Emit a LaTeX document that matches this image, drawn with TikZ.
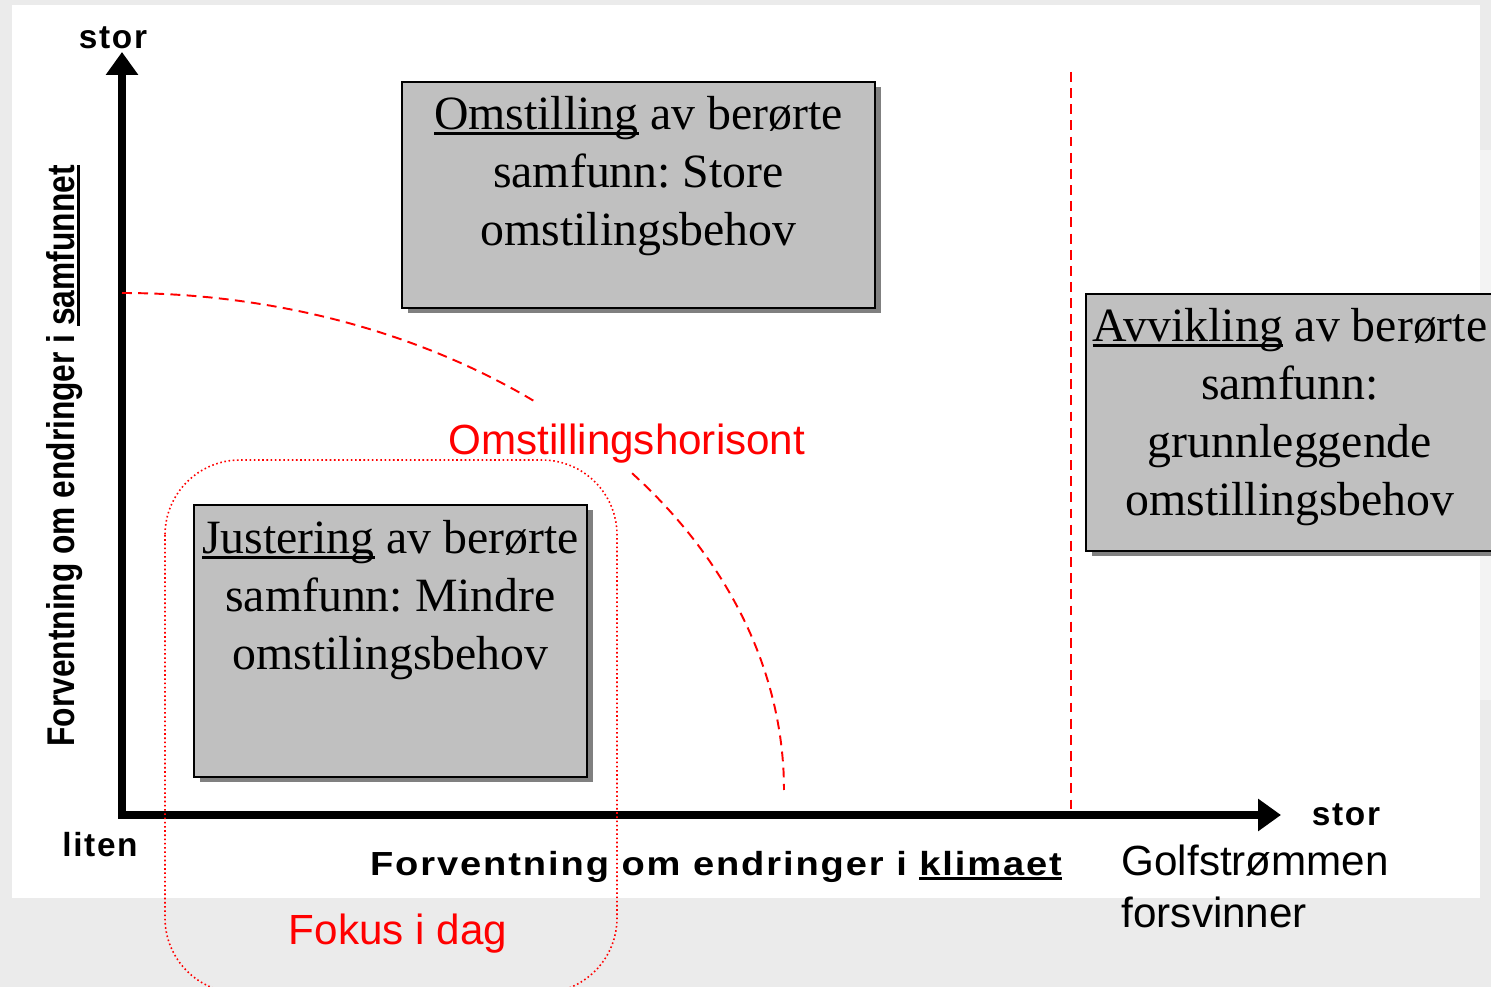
\documentclass[tikz,border=0pt]{standalone}
\usepackage{fontspec}
\setmainfont{Liberation Serif}
\newfontfamily\arial{Liberation Sans}
\newfontfamily\axfont[LetterSpace=5]{Liberation Sans}
\usetikzlibrary{arrows.meta,shadows}
\definecolor{bggray}{HTML}{EBEBEB}
\definecolor{boxgray}{HTML}{C0C0C0}
\definecolor{shadowgray}{HTML}{808080}
\definecolor{myred}{HTML}{FF0000}
\frenchspacing
\newcommand{\myul}[3]{\setbox0\hbox{#1}\rlap{\rule[-#2]{\wd0}{#3}}\box0{}}
\tikzset{
  box/.style={draw=black, line width=0.6pt, fill=boxgray, inner sep=0pt,
    drop shadow={shadow xshift=0.55mm, shadow yshift=-0.55mm, fill=shadowgray, opacity=1}},
  boxtext/.style={align=center, inner sep=0pt, font=\fontsize{13.6pt}{16.5pt}\selectfont},
  redtext/.style={text=myred, inner sep=0pt, font=\arial\fontsize{12pt}{14.8pt}\selectfont},
  axlabel/.style={inner sep=0pt, font=\axfont\bfseries\fontsize{9.5pt}{11pt}\selectfont},
  axisline/.style={line width=2.3pt, line join=miter,
    {Triangle[length=6.5pt,width=8.8pt]}-{Triangle[length=6.5pt,width=8.8pt]}},
  reddash/.style={draw=myred, line width=0.55pt, dash pattern=on 2.8pt off 1.8pt},
  reddot/.style={draw=myred, line width=0.45pt, dash pattern=on 0.45pt off 0.75pt}
}
\begin{document}
\begin{tikzpicture}[x=0.1mm, y=-0.1mm]
\useasboundingbox (0,0) rectangle (1491,987);
\clip (0,0) rectangle (1491,987);
% background
\fill[bggray] (0,0) rectangle (1491,987);
\fill[white, opacity=0.4] (1470,150) rectangle (1491,700);
\fill[white] (12,5) rectangle (1480,898);

% boxes
\node[box, minimum width=47.3mm, minimum height=22.6mm] (omst) at (638.5,195) {};
\node[boxtext, anchor=north] (omsttxt) at (638.5,96) {\myul{Omstilling}{1.5pt}{0.85pt} av berørte\\samfunn: Store\\omstilingsbehov};

\node[box, minimum width=39.3mm, minimum height=27.2mm] (just) at (390.5,641) {};
\node[boxtext, anchor=north] (justtxt) at (390.5,520) {\myul{Justering}{1.5pt}{0.85pt} av berørte\\samfunn: Mindre\\omstilingsbehov};

\node[box, minimum width=40.8mm, minimum height=25.7mm] (avv) at (1290,422.5) {};
\node[boxtext, anchor=north] (avvtxt) at (1290,308) {\myul{Avvikling}{1.5pt}{0.85pt} av berørte\\samfunn:\\grunnleggende\\omstillingsbehov};

% axes
\coordinate (ytip) at (122,52);
\coordinate (origin) at (122,815);
\coordinate (xtip) at (1281,815);
\draw[axisline] (ytip) -- (origin) -- (xtip);

% red dashed horizon (quarter ellipse with gap)
\draw[reddash] plot[domain=90:51.4, samples=40, smooth] ({122+662*cos(\x)},{790-497*sin(\x)});
\draw[reddash] plot[domain=39.6:0, samples=40, smooth] ({122+662*cos(\x)},{790-497*sin(\x)});

% vertical red dashed line
\coordinate (vtop) at (1071,72);
\coordinate (vbot) at (1071,811);
\draw[reddash] (vtop) -- (vbot);

% Fokus rounded dotted frame
\draw[reddot, rounded corners=7.5mm] (165,460) rectangle (617,993);

% labels
\node[redtext] (horis) at (627,444) {Omstillingshorisont};
\node[redtext] (fokus) at (398,934) {Fokus i dag};
\node[redtext, text=black, align=left, anchor=north west] (golf) at (1121,844) {Golfstrømmen\\forsvinner};

\node[axlabel] (ystor) at (113,38) {stor};
\node[axlabel] (liten) at (100,845) {liten};
\node[axlabel] (xstor) at (1346,815) {stor};
\node[axlabel] (xlab) at (716,867) {\scalebox{1.14}[1]{Forventning om endringer i \myul{klimaet}{1.4pt}{0.9pt}}};
\node[inner sep=0pt, rotate=90, font=\arial\bfseries\fontsize{11pt}{12pt}\selectfont] (ylab) at (65,456)
  {\scalebox{0.82}[1]{Forventning om endringer i \myul{samfunnet}{1.4pt}{0.9pt}}};
\end{tikzpicture}
\end{document}
